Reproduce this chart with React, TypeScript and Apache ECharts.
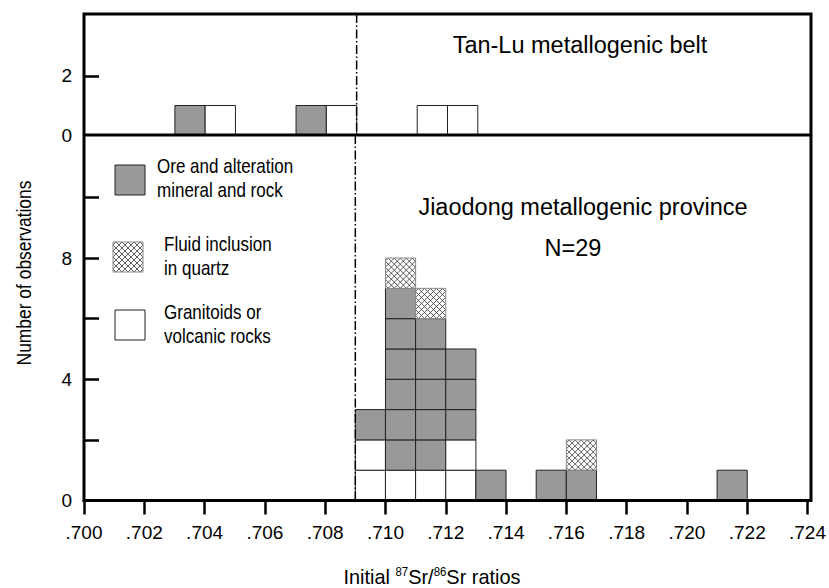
import { useEffect, useRef } from "react";
import * as echarts from "echarts";

// ---- data ----
const BIN_WIDTH = 0.001;
const SR_BOUNDARY = 0.709;
const X_MIN = 0.7;
const X_MAX = 0.724;
const X_INTERVAL = 0.002;

// Tan-Lu metallogenic belt (bin start values, counts per category)
const tanLuBins = [0.703, 0.704, 0.707, 0.708, 0.711, 0.712];
const tanLuGranitoid = [0, 1, 0, 1, 1, 1];
const tanLuOre = [1, 0, 1, 0, 0, 0];
const tanLuFluid = [0, 0, 0, 0, 0, 0];

// Jiaodong metallogenic province
const jiaodongBins = [0.709, 0.71, 0.711, 0.712, 0.713, 0.715, 0.716, 0.721];
const jiaodongGranitoid = [2, 1, 1, 2, 0, 0, 0, 0];
const jiaodongOre = [1, 6, 5, 3, 1, 1, 1, 1];
const jiaodongFluid = [0, 1, 1, 0, 0, 0, 1, 0];

const topYLabels = [0, 2];
const topYTicks = [2];
const bottomYLabels = [0, 4, 8];
const bottomYTicks = [2, 4, 6, 8, 10];

const legendItems = [
  "Ore and alteration\nmineral and rock",
  "Fluid inclusion\nin quartz",
  "Granitoids or\nvolcanic rocks",
];

// ---- layout / styles ----
const FONT = "'Liberation Sans', Arial, sans-serif";
const NARROW_SCALE = 0.83;
const ORE_FILL = "#999999";
const PLOT_LEFT = 84;
const PLOT_RIGHT = 811;
const TOP_Y = 14;
const MID_Y = 135;
const BOTTOM_Y = 500.5;

// kind: 0 ore, 1 fluid, 2 granitoid
function buildCells(bins: number[], g: number[], o: number[], f: number[]) {
  const out: number[][] = [];
  bins.forEach((b, i) => {
    let level = 0;
    const seq: [number, number][] = [
      [2, g[i]],
      [0, o[i]],
      [1, f[i]],
    ];
    seq.forEach(([kind, n]) => {
      for (let k = 0; k < n; k++) {
        out.push([b, level, kind]);
        level++;
      }
    });
  });
  return out;
}

function hatch(x: number, y: number, w: number, h: number, step = 6) {
  const segs: any[] = [];
  const st = { stroke: "#333", lineWidth: 0.8 };
  for (let c = step / 2; c < w + h; c += step) {
    const u1 = Math.max(0, c - h);
    const u2 = Math.min(w, c);
    segs.push({ type: "line", shape: { x1: x + u1, y1: y + c - u1, x2: x + u2, y2: y + c - u2 }, style: st });
  }
  for (let c = -h + step / 2; c < w; c += step) {
    const u1 = Math.max(0, c);
    const u2 = Math.min(w, c + h);
    segs.push({ type: "line", shape: { x1: x + u1, y1: y + u1 - c, x2: x + u2, y2: y + u2 - c }, style: st });
  }
  return segs;
}

function cellShapes(x: number, y: number, w: number, h: number, kind: number) {
  const children: any[] = [
    { type: "rect", shape: { x, y, width: w, height: h }, style: { fill: kind === 0 ? ORE_FILL : "#ffffff", stroke: "none" } },
  ];
  if (kind === 1) children.push(...hatch(x, y, w, h));
  children.push({
    type: "rect",
    shape: { x, y, width: w, height: h },
    style: { fill: "none", stroke: kind === 1 ? "#888" : "#222", lineWidth: 1 },
  });
  return children;
}

function renderCell(_params: any, api: any) {
  const x0 = api.value(0);
  const y0 = api.value(1);
  const kind = api.value(2);
  const p0 = api.coord([x0, y0]);
  const p1 = api.coord([x0 + BIN_WIDTH, y0 + 1]);
  const x = p0[0];
  const y = p1[1];
  const w = p1[0] - p0[0];
  const h = p0[1] - p1[1];
  return { type: "group", children: cellShapes(x, y, w, h, kind) };
}

function renderBoundary(params: any, api: any) {
  const cs = params.coordSys;
  const p = api.coord([api.value(0), 0]);
  return {
    type: "line",
    shape: { x1: p[0], y1: cs.y, x2: p[0], y2: cs.y + cs.height },
    style: { stroke: "#000", lineWidth: 1.5, lineDash: [9, 2.5, 1.5, 2.5] },
  };
}

export default function App() {
  const ref = useRef<HTMLDivElement>(null);
  useEffect(() => {
    if (!ref.current) return;
    const chart = echarts.init(ref.current, undefined, { renderer: "svg" });

    const legendGraphics: any[] = [];
    const legendBoxes = [
      { kind: 0, x: 115, y: 165, tx: 157, ty: 178 },
      { kind: 1, x: 113, y: 242, tx: 164, ty: 256 },
      { kind: 2, x: 115, y: 310, tx: 164, ty: 324 },
    ];
    legendBoxes.forEach((b, i) => {
      legendGraphics.push({ type: "group", children: cellShapes(b.x, b.y, 30, 30, b.kind) });
      legendGraphics.push({
        type: "text",
        x: b.tx,
        y: b.ty,
        scaleX: NARROW_SCALE,
        style: { text: legendItems[i], fontSize: 20.5, lineHeight: 24.5, fontFamily: FONT, fill: "#000", align: "left", verticalAlign: "middle" },
      });
    });

    const frameGraphics = [
      {
        type: "rect",
        z: 100,
        silent: true,
        shape: { x: PLOT_LEFT, y: TOP_Y, width: PLOT_RIGHT - PLOT_LEFT, height: BOTTOM_Y - TOP_Y },
        style: { stroke: "#000", lineWidth: 3, fill: "none" },
      },
      {
        type: "line",
        z: 100,
        silent: true,
        shape: { x1: PLOT_LEFT, y1: MID_Y, x2: PLOT_RIGHT, y2: MID_Y },
        style: { stroke: "#000", lineWidth: 3 },
      },
    ];

    chart.setOption({
      animation: false,
      backgroundColor: "#ffffff",
      grid: [
        { left: PLOT_LEFT, right: 829 - PLOT_RIGHT, top: TOP_Y, height: MID_Y - TOP_Y, show: false },
        { left: PLOT_LEFT, right: 829 - PLOT_RIGHT, top: MID_Y, height: BOTTOM_Y - MID_Y, show: false },
      ],
      xAxis: [
        { gridIndex: 0, type: "value", min: X_MIN, max: X_MAX, show: false },
        {
          gridIndex: 1,
          type: "value",
          min: X_MIN,
          max: X_MAX,
          interval: X_INTERVAL,
          splitLine: { show: false },
          axisLine: { show: true, lineStyle: { color: "#000", width: 3 } },
          axisTick: { show: true, inside: false, length: 14, lineStyle: { color: "#000", width: 2.5 } },
          axisLabel: {
            margin: 22,
            fontSize: 19,
            fontFamily: FONT,
            color: "#000",
            formatter: (v: number) => v.toFixed(3).replace(/^0/, ""),
          },
        },
      ],
      yAxis: [
        {
          gridIndex: 0,
          type: "value",
          min: 0,
          max: 4.1,
          splitLine: { show: false },
          axisLine: { show: false },
          axisTick: { show: true, inside: true, length: 15, customValues: topYTicks, lineStyle: { color: "#000", width: 2.5 } },
          axisLabel: { customValues: topYLabels, margin: 12, fontSize: 19, fontFamily: FONT, color: "#000" },
        },
        {
          gridIndex: 1,
          type: "value",
          min: 0,
          max: 12.06,
          splitLine: { show: false },
          axisLine: { show: false },
          axisTick: { show: true, inside: true, length: 15, customValues: bottomYTicks, lineStyle: { color: "#000", width: 2.5 } },
          axisLabel: { customValues: bottomYLabels, margin: 12, fontSize: 19, fontFamily: FONT, color: "#000" },
        },
      ],
      series: [
        {
          type: "custom",
          name: "Tan-Lu",
          xAxisIndex: 0,
          yAxisIndex: 0,
          renderItem: renderCell,
          encode: { x: 0, y: 1 },
          data: buildCells(tanLuBins, tanLuGranitoid, tanLuOre, tanLuFluid),
          z: 2,
        },
        {
          type: "custom",
          name: "Jiaodong",
          xAxisIndex: 1,
          yAxisIndex: 1,
          renderItem: renderCell,
          encode: { x: 0, y: 1 },
          data: buildCells(jiaodongBins, jiaodongGranitoid, jiaodongOre, jiaodongFluid),
          z: 2,
        },
        ...[0, 1].map((gi) => ({
          type: "custom",
          xAxisIndex: gi,
          yAxisIndex: gi,
          renderItem: renderBoundary,
          encode: { x: 0, y: 1 },
          data: [[SR_BOUNDARY, 0]],
          silent: true,
          z: 3,
        })),
      ],
      graphic: [
        ...legendGraphics,
        ...frameGraphics,
        {
          type: "text",
          x: 580,
          y: 45,
          style: { text: "Tan-Lu metallogenic belt", fontSize: 23.5, fontFamily: FONT, fill: "#000", align: "center", verticalAlign: "middle" },
        },
        {
          type: "text",
          x: 583,
          y: 207,
          style: { text: "Jiaodong metallogenic province", fontSize: 23.5, fontFamily: FONT, fill: "#000", align: "center", verticalAlign: "middle" },
        },
        {
          type: "text",
          x: 573,
          y: 248,
          style: { text: "N=29", fontSize: 23.5, fontFamily: FONT, fill: "#000", align: "center", verticalAlign: "middle" },
        },
        {
          type: "text",
          x: 24,
          y: 273,
          rotation: Math.PI / 2,
          scaleX: NARROW_SCALE,
          style: { text: "Number of observations", fontSize: 21, fontFamily: FONT, fill: "#000", align: "center", verticalAlign: "middle" },
        },
        {
          type: "text",
          x: 432,
          y: 576,
          scaleX: 0.95,
          style: {
            text: "{n|Initial }{s|87}{n|Sr/}{s|86}{n|Sr ratios}",
            align: "center",
            verticalAlign: "middle",
            rich: {
              n: { fontSize: 21, lineHeight: 22, fontFamily: FONT, fill: "#000", verticalAlign: "bottom" },
              s: { fontSize: 12, lineHeight: 10, fontFamily: FONT, fill: "#000", verticalAlign: "top" },
            },
          },
        },
      ],
    });
    return () => chart.dispose();
  }, []);
  return <div ref={ref} style={{ position: "fixed", left: 0, top: 0, width: 829, height: 588 }} />;
}
